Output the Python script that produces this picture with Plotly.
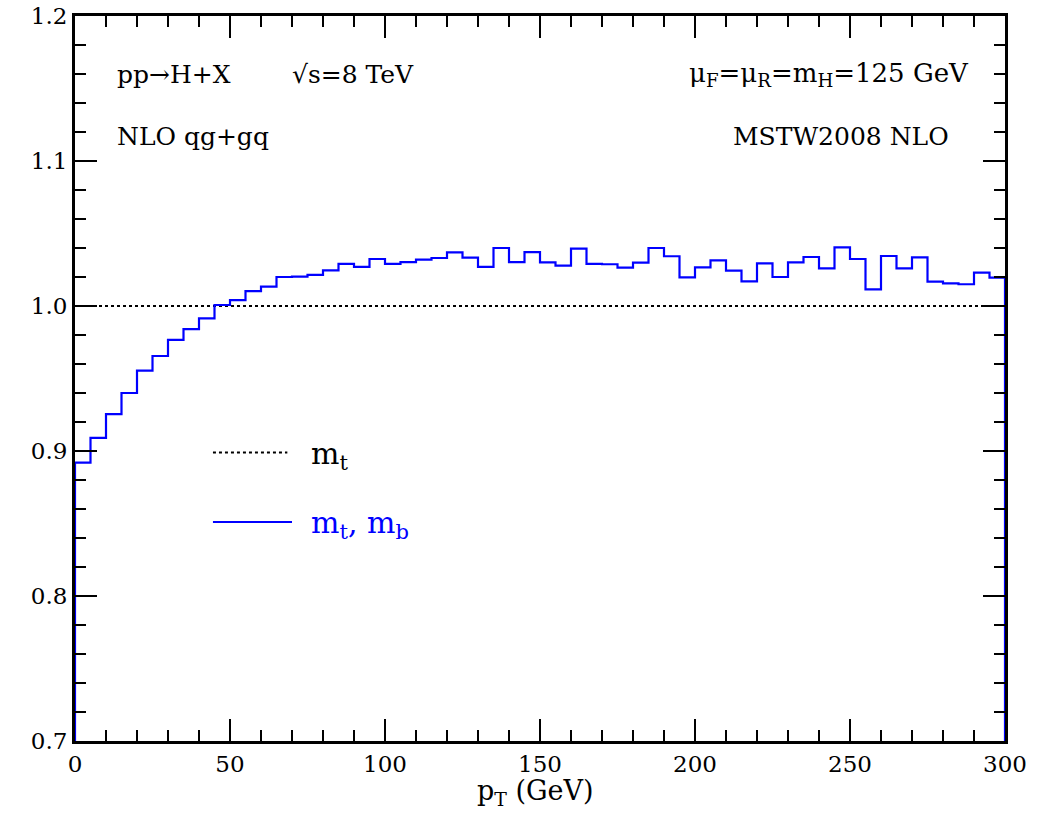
import numpy as np
import plotly.graph_objects as go

bin_edges = list(range(0, 305, 5))
ratio_mt_mb = [
    0.892, 0.909, 0.9255, 0.940, 0.9554, 0.9655, 0.9766, 0.984, 0.9915, 1.0007,
    1.004, 1.0103, 1.0133, 1.020, 1.0203, 1.0214, 1.0246, 1.029, 1.027, 1.0324,
    1.029, 1.0303, 1.032, 1.0331, 1.037, 1.0333, 1.027, 1.040, 1.0303, 1.0372,
    1.0301, 1.0278, 1.0395, 1.029, 1.0288, 1.0264, 1.0299, 1.040, 1.0343, 1.0198,
    1.0267, 1.0315, 1.0244, 1.017, 1.0294, 1.020, 1.0301, 1.0338, 1.026, 1.0405,
    1.0324, 1.0115, 1.0345, 1.026, 1.0336, 1.0168, 1.0156, 1.015, 1.023, 1.0195,
]
ratio_mt = 1.0
x_range = [0, 300]
y_range = [0.7, 1.2]

FONT = "DejaVu Serif"

# build step outline from the histogram data
edges = np.array(bin_edges, dtype=float)
vals = np.array(ratio_mt_mb, dtype=float)
xs = np.concatenate([[edges[0]], np.repeat(edges, 2)[1:-1], [edges[-1]]])
ys = np.concatenate([[y_range[0]], np.repeat(vals, 2), [y_range[0]]])
xs = np.concatenate([[edges[0]], xs])
ys = np.concatenate([[y_range[0]], ys])

fig = go.Figure()
fig.add_trace(go.Scatter(x=[x_range[0], x_range[1]], y=[ratio_mt, ratio_mt], mode="lines",
                         line=dict(color="black", width=2, dash="dot"), showlegend=False,
                         hoverinfo="skip"))
fig.add_trace(go.Scatter(x=xs, y=ys, mode="lines", line=dict(color="#0000ff", width=2.2),
                         showlegend=False, cliponaxis=False))

# legend samples
fig.add_trace(go.Scatter(x=[44.5, 68.5], y=[0.899, 0.899], mode="lines",
                         line=dict(color="black", width=2, dash="dot"), showlegend=False))
fig.add_trace(go.Scatter(x=[44.5, 70.0], y=[0.851, 0.851], mode="lines",
                         line=dict(color="#0000ff", width=2), showlegend=False))

ann = [
    dict(x=12.8, y=1.160, text="pp→H+X", xanchor="left", color="black", size=25),
    dict(x=69.5, y=1.160, text="√s=8 TeV", xanchor="left", color="black", size=25),
    dict(x=289, y=1.160, text="μ<sub>F</sub>=μ<sub>R</sub>=m<sub>H</sub>=125 GeV", xanchor="right", color="black", size=26),
    dict(x=12.8, y=1.117, text="NLO qg+gq", xanchor="left", color="black", size=25),
    dict(x=282.5, y=1.117, text="MSTW2008 NLO", xanchor="right", color="black", size=25),
    dict(x=75.5, y=0.897, text="m<sub>t</sub>", xanchor="left", color="black", size=30),
    dict(x=75.5, y=0.849, text="m<sub>t</sub>, m<sub>b</sub>", xanchor="left", color="#0000ff", size=30),
]
for a in ann:
    fig.add_annotation(x=a["x"], y=a["y"], text=a["text"], xanchor=a["xanchor"], yanchor="middle",
                       showarrow=False, font=dict(family=FONT, size=a["size"], color=a["color"]))

# x-axis title placed as annotation (paper coordinates) to match position
fig.add_annotation(x=0.495, y=-0.071, xref="paper", yref="paper", text="p<sub>T</sub> (GeV)",
                   xanchor="center", yanchor="middle", showarrow=False,
                   font=dict(family=FONT, size=27, color="black"))

axis_common = dict(showgrid=False, zeroline=False, ticks="inside", mirror="allticks",
                   showline=True, linecolor="black", linewidth=3, tickcolor="black",
                   tickwidth=1.5, ticklen=22, automargin=False,
                   tickfont=dict(family=FONT, size=23, color="black"))
fig.update_xaxes(range=x_range, dtick=50, tick0=0,
                 minor=dict(dtick=10, ticks="inside", ticklen=11, tickcolor="black", tickwidth=1.5),
                 **axis_common)
fig.update_yaxes(range=y_range, dtick=0.1, tick0=0.7, tickformat=".1f",
                 minor=dict(dtick=0.02, ticks="inside", ticklen=11, tickcolor="black", tickwidth=1.5),
                 **axis_common)
fig.update_layout(width=1051, height=825, plot_bgcolor="white", paper_bgcolor="white",
                  margin=dict(l=75, r=46, t=16, b=84), showlegend=False)

fig.write_html("out.html")
